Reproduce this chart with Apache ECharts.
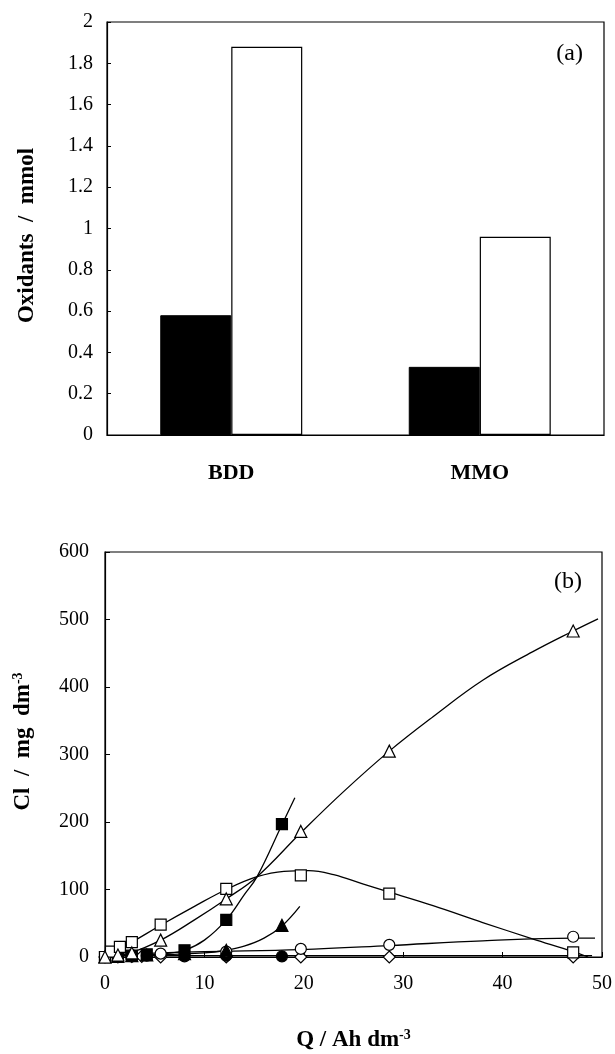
<!DOCTYPE html>
<html>
<head>
<meta charset="utf-8">
<script src="https://cdn.jsdelivr.net/npm/echarts@6/dist/echarts.min.js"></script>
<style>html,body{margin:0;padding:0;background:#fff;}#c{width:615px;height:1054px;}</style>
</head>
<body>
<div id="c"></div>
<script>
// ---- Panel (a) data ----
const barCategories = ['BDD', 'MMO'];
const oxidantsFilled = [0.58, 0.33];
const oxidantsOpen = [1.88, 0.96];
const yTicksA = { min: 0, max: 2, interval: 0.2 };

// ---- Panel (b) data: measured points [Q, Cl] ----
const openTriangle = [[0,0],[1.3,3],[2.7,6],[5.6,25],[12.2,86],[19.7,186],[28.6,305],[47.1,483]];
const openSquare = [[0,0],[0.6,8],[1.5,15],[2.7,22],[5.6,48],[12.2,101],[19.7,121],[28.6,94],[47.1,7]];
const filledSquare = [[0,0],[1.3,1],[2.7,2],[4.2,4],[8.0,10],[12.2,55],[17.8,197]];
const filledTriangle = [[0,0],[1.3,1],[2.7,2],[4.2,3],[8.0,5],[12.2,10],[17.8,47]];
const openCircle = [[0,0],[1.3,2],[2.7,3],[5.6,5],[12.2,8],[19.7,12],[28.6,18],[47.1,30]];
const filledCircle = [[0,0],[1.3,1],[2.7,1],[4.2,2],[8.0,1],[12.2,2],[17.8,1]];
const openDiamond = [[0,0],[1.3,0],[2.7,1],[3.7,1],[5.6,0],[12.2,0],[19.7,0],[28.6,0],[47.1,0]];

// ---- Panel (b) fitted curves ----
const fitOpenTriangle = [[0,0],[2.5,6],[5.6,25],[9,55],[12.2,86],[15.3,119],[19.7,184],[24,245],[28.6,305],[33,356],[38,410],[43,452],[47.1,483],[49.6,501]];
const fitOpenSquare = [[0,0],[2.7,22],[5.6,47],[9,75],[12.2,100],[15.3,119],[18,127],[20.5,128],[23,122],[26,108],[28.6,96],[33,76],[38,51],[43,27],[47.1,8],[48.6,0]];
const fitFilledSquare = [[2.5,1],[4.2,3],[6,5],[8,10],[10,25],[12.2,55],[14,92],[15.3,119],[17.8,196],[19.1,236]];
const fitFilledTriangle = [[0,2],[5,3],[10,6],[12.2,10],[14,16],[16,28],[17.8,46],[19.6,75]];
const fitOpenCircle = [[0,3],[5.6,6],[10,8],[19.7,11],[28.6,17],[38,24],[47.1,28],[49.3,28]];
const fitFilledCircle = [[0,2],[10,2],[20,2],[30,2],[40,2],[49,2]];
const yTicksB = { min: 0, max: 600, interval: 100 };
const xTicksB = { min: 0, max: 50, interval: 10 };

const serif = '"Liberation Serif", "Times New Roman", serif';
const lab = { color: '#000', fontFamily: serif, fontSize: 20 };

function scatter(data, symbol, filled, size) {
  return {
    type: 'scatter', xAxisIndex: 1, yAxisIndex: 1, data: data, symbol: symbol, symbolSize: size,
    itemStyle: { color: filled ? '#000' : '#fff', borderColor: '#000', borderWidth: 1.2, opacity: 1 }, z: 5
  };
}
function fit(data) {
  return {
    type: 'line', xAxisIndex: 1, yAxisIndex: 1, data: data, smooth: 0.4, showSymbol: false, symbol: 'none',
    lineStyle: { color: '#000', width: 1.3 }, z: 3, silent: true
  };
}

const chart = echarts.init(document.getElementById('c'), null, { renderer: 'canvas' });
chart.setOption({
  animation: false,
  backgroundColor: '#fff',
  title: [
    { text: '(a)', right: 27, top: 37, textStyle: { fontFamily: serif, fontWeight: 'normal', fontSize: 24, color: '#000' } },
    { text: '(b)', right: 28, top: 565, textStyle: { fontFamily: serif, fontWeight: 'normal', fontSize: 24, color: '#000' } }
  ],
  grid: [
    { left: 107, right: 11, top: 22, height: 413, show: true, borderColor: '#000', borderWidth: 1.2 },
    { left: 105, right: 11, top: 552, height: 405, show: true, borderColor: '#000', borderWidth: 1.2 }
  ],
  xAxis: [
    {
      gridIndex: 0, type: 'category', data: barCategories,
      axisLine: { lineStyle: { color: '#000', width: 1.2 } }, axisTick: { show: false },
      axisLabel: { color: '#000', fontFamily: serif, fontSize: 22, fontWeight: 'bold', margin: 27 }
    },
    {
      gridIndex: 1, type: 'value', min: xTicksB.min, max: xTicksB.max, interval: xTicksB.interval,
      name: '{a|Q / Ah dm}{s|-3}', nameLocation: 'middle', nameGap: 71,
      nameTextStyle: { rich: {
        a: { fontFamily: serif, fontSize: 23, fontWeight: 'bold', color: '#000' },
        s: { fontFamily: serif, fontSize: 14, fontWeight: 'bold', color: '#000', verticalAlign: 'top', padding: [0,0,10,0] } } },
      splitLine: { show: false },
      axisLine: { lineStyle: { color: '#000', width: 1.2 } },
      axisTick: { inside: true, length: 5, lineStyle: { color: '#000' } },
      axisLabel: Object.assign({ margin: 17 }, lab)
    }
  ],
  yAxis: [
    {
      gridIndex: 0, type: 'value', min: yTicksA.min, max: yTicksA.max, interval: yTicksA.interval,
      name: 'Oxidants  /  mmol', nameLocation: 'middle', nameGap: 68,
      nameTextStyle: { fontFamily: serif, fontSize: 23, fontWeight: 'bold', color: '#000', padding: [0, 14, 0, 0] },
      splitLine: { show: false },
      axisLine: { show: true, lineStyle: { color: '#000', width: 1.2 } },
      axisTick: { show: true, inside: true, length: 4, lineStyle: { color: '#000' } },
      axisLabel: Object.assign({ margin: 14 }, lab)
    },
    {
      gridIndex: 1, type: 'value', min: yTicksB.min, max: yTicksB.max, interval: yTicksB.interval,
      name: '{a|Cl  /  mg  dm}{s|-3}', nameLocation: 'middle', nameGap: 70,
      nameTextStyle: { padding: [0, 0, 0, 26], rich: {
        a: { fontFamily: serif, fontSize: 23, fontWeight: 'bold', color: '#000' },
        s: { fontFamily: serif, fontSize: 14, fontWeight: 'bold', color: '#000', verticalAlign: 'top', padding: [0,0,10,0] } } },
      splitLine: { show: false },
      axisLine: { show: true, lineStyle: { color: '#000', width: 1.2 } },
      axisTick: { show: true, inside: true, length: 5, lineStyle: { color: '#000' } },
      axisLabel: Object.assign({ margin: 16 }, lab)
    }
  ],
  series: [
    { type: 'bar', xAxisIndex: 0, yAxisIndex: 0, data: oxidantsFilled, barWidth: 71, barGap: '0%',
      itemStyle: { color: '#000', borderColor: '#000', borderWidth: 1 } },
    { type: 'bar', xAxisIndex: 0, yAxisIndex: 0, data: oxidantsOpen, barWidth: 71, barGap: '0%',
      itemStyle: { color: '#fff', borderColor: '#000', borderWidth: 1.2 } },
    fit(fitOpenTriangle), fit(fitOpenSquare), fit(fitFilledSquare), fit(fitFilledTriangle),
    fit(fitOpenCircle), fit(fitFilledCircle),
    scatter(openDiamond, 'diamond', false, 12),
    scatter(filledCircle, 'circle', true, 11),
    scatter(openCircle, 'circle', false, 11),
    scatter(filledTriangle, 'triangle', true, 12),
    scatter(filledSquare, 'rect', true, 11),
    scatter(openSquare, 'rect', false, 11),
    scatter(openTriangle, 'triangle', false, 12)
  ]
});
</script>
</body>
</html>
